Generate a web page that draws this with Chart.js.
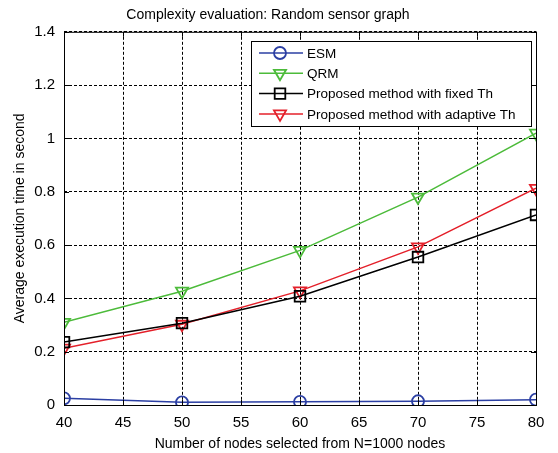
<!DOCTYPE html>
<html>
<head>
<meta charset="utf-8">
<script src="https://cdn.jsdelivr.net/npm/chart.js"></script>
<style>
  html, body { margin: 0; padding: 0; background: #fff; }
  #wrap { width: 558px; height: 453px; }
</style>
</head>
<body>
<div id="wrap"><canvas id="chart" width="558" height="453"></canvas></div>
<script>
const nodes = [40, 50, 60, 70, 80];
const esm = [0.025, 0.01, 0.012, 0.014, 0.02];
const qrm = [0.31, 0.427, 0.58, 0.78, 1.02];
const fixedTh = [0.236, 0.307, 0.408, 0.555, 0.713];
const adaptiveTh = [0.213, 0.303, 0.428, 0.593, 0.813];
const seriesNames = ['ESM', 'QRM', 'Proposed method with fixed Th', 'Proposed method with adaptive Th'];
const xTicks = [40, 45, 50, 55, 60, 65, 70, 75, 80];
const yTicks = [0, 0.2, 0.4, 0.6, 0.8, 1, 1.2, 1.4];

const FONT = 'Liberation Sans, Arial, Helvetica, sans-serif';

function toPoints(vals) {
  return vals.map((v, i) => ({ x: nodes[i], y: v }));
}

function makeSet(label, vals, color, style, rot, r) {
  return {
    label: label,
    data: toPoints(vals),
    borderColor: color,
    backgroundColor: 'rgba(0,0,0,0)',
    borderWidth: 1.5,
    pointStyle: style,
    pointRotation: rot,
    pointRadius: r,
    pointBorderWidth: 1.8,
    pointBorderColor: color,
    pointBackgroundColor: 'rgba(0,0,0,0)',
    tension: 0
  };
}

// box around the plot plus the boxed legend in the upper right
const frameAndLegend = {
  id: 'frameAndLegend',
  afterDatasetsDraw(chart) {
    const { ctx, chartArea: a } = chart;
    ctx.save();
    ctx.strokeStyle = '#000';
    ctx.lineWidth = 1;
    ctx.setLineDash([]);
    ctx.strokeRect(a.left + 0.5, a.top + 0.5, a.right - a.left, a.bottom - a.top);

    // inward tick marks
    const xs = chart.scales.x, ys = chart.scales.y;
    ctx.beginPath();
    xTicks.forEach(t => {
      const px = Math.round(xs.getPixelForValue(t)) + 0.5;
      ctx.moveTo(px, a.bottom); ctx.lineTo(px, a.bottom - 5);
      ctx.moveTo(px, a.top); ctx.lineTo(px, a.top + 5);
    });
    yTicks.forEach(t => {
      const py = Math.round(ys.getPixelForValue(t)) + 0.5;
      ctx.moveTo(a.left, py); ctx.lineTo(a.left + 5, py);
      ctx.moveTo(a.right, py); ctx.lineTo(a.right - 5, py);
    });
    ctx.stroke();

    // legend
    const bx = 251, by = 41, bw = 280, bh = 85;
    ctx.fillStyle = '#fff';
    ctx.fillRect(bx, by, bw, bh);
    ctx.strokeRect(bx + 0.5, by + 0.5, bw, bh);
    ctx.font = '13.5px ' + FONT;
    ctx.textBaseline = 'middle';
    chart.data.datasets.forEach((ds, i) => {
      const y = by + 12 + i * 20.3;
      ctx.strokeStyle = ds.borderColor;
      ctx.fillStyle = 'rgba(0,0,0,0)';
      ctx.lineWidth = 1.5;
      ctx.beginPath();
      ctx.moveTo(259, y); ctx.lineTo(303, y);
      ctx.stroke();
      ctx.lineWidth = 1.8;
      Chart.helpers.drawPoint(ctx, {
        pointStyle: ds.pointStyle,
        rotation: ds.pointRotation,
        radius: ds.pointRadius,
        borderWidth: 1.8
      }, 280, y);
      ctx.fillStyle = '#000';
      ctx.fillText(ds.label, 307, y + 1);
    });
    ctx.restore();
  }
};

const ctx = document.getElementById('chart').getContext('2d');
new Chart(ctx, {
  type: 'line',
  data: {
    datasets: [
      makeSet(seriesNames[0], esm, '#2b3fa3', 'circle', 0, 6),
      makeSet(seriesNames[1], qrm, '#4cbb3a', 'triangle', 180, 7),
      makeSet(seriesNames[2], fixedTh, '#000000', 'rect', 0, 7.5),
      makeSet(seriesNames[3], adaptiveTh, '#e4202a', 'triangle', 180, 7)
    ]
  },
  plugins: [frameAndLegend],
  options: {
    responsive: false,
    animation: false,
    layout: { padding: { left: 0, right: 22, top: 0, bottom: 0 } },
    plugins: {
      legend: { display: false },
      tooltip: { enabled: false },
      title: {
        display: true,
        text: 'Complexity evaluation: Random sensor graph',
        color: '#000',
        font: { family: FONT, size: 14, weight: 'normal' },
        padding: { top: 7, bottom: 8 }
      }
    },
    scales: {
      x: {
        type: 'linear',
        min: 40,
        max: 80,
        afterBuildTicks: s => { s.ticks = xTicks.map(v => ({ value: v })); },
        afterFit: s => { s.height = 48; },
        ticks: {
          color: '#000',
          font: { family: FONT, size: 15 },
          padding: 9,
          maxRotation: 0
        },
        grid: { color: '#000', lineWidth: 1, drawTicks: false },
        border: { display: false, dash: [3, 2] },
        title: {
          display: true,
          text: 'Number of nodes selected from N=1000 nodes',
          color: '#000',
          font: { family: FONT, size: 14 },
          padding: { top: 2, bottom: 0 }
        }
      },
      y: {
        type: 'linear',
        min: 0,
        max: 1.4,
        afterBuildTicks: s => { s.ticks = yTicks.map(v => ({ value: v })); },
        afterFit: s => { s.width = 64; },
        ticks: {
          color: '#000',
          font: { family: FONT, size: 15 },
          padding: 9,
          callback: v => String(Math.round(v * 10) / 10)
        },
        grid: { color: '#000', lineWidth: 1, drawTicks: false },
        border: { display: false, dash: [3, 2] },
        title: {
          display: true,
          text: 'Average execution time in second',
          color: '#000',
          font: { family: FONT, size: 14 },
          padding: { top: 12, bottom: 0 }
        }
      }
    }
  }
});
</script>
</body>
</html>
